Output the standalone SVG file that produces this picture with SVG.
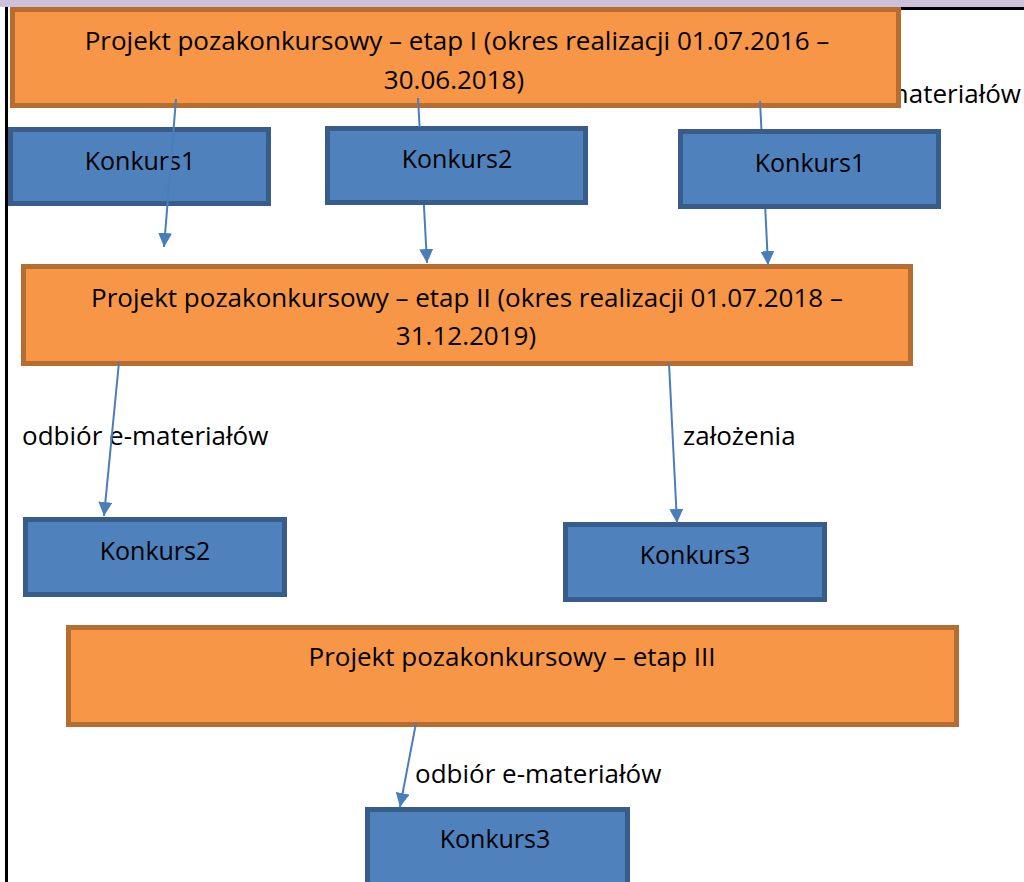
<svg xmlns="http://www.w3.org/2000/svg" width="1024" height="882" viewBox="0 0 1024 882">
<defs>
<style>
.bg{fill:#ffffff}
.orange rect{fill:#F79646;stroke:#B66D31;stroke-width:5}
.blue rect{fill:#4F81BD;stroke:#385D8A;stroke-width:5}
text{font-family:"Open Sans","Liberation Sans",sans-serif;font-size:26px;fill:#000}
.blue text{font-size:25px}
.c{text-anchor:middle}
.conn path{fill:none;stroke:#4A7EBB;stroke-width:2}
</style>
<marker id="arr" markerUnits="userSpaceOnUse" markerWidth="16" markerHeight="16" refX="14" refY="7" orient="auto">
<path d="M0,0 L14,7 L0,14 z" fill="#4A7EBB"/>
</marker>
</defs>
<rect class="bg" x="0" y="0" width="1024" height="882"/>
<rect x="0" y="0" width="1024" height="7" fill="#CCC0DA"/>
<rect x="900" y="7" width="124" height="3" fill="#000"/>
<rect x="5" y="7" width="3" height="875" fill="#000"/>

<text id="lbl-top" x="1021" y="103" text-anchor="end">odbiór e-materiałów</text>

<g id="etap1" class="orange">
<rect x="12.5" y="9.5" width="886" height="96"/>
<text class="c" x="457" y="50">Projekt pozakonkursowy – etap I (okres realizacji 01.07.2016 –</text>
<text class="c" x="454" y="89">30.06.2018)</text>
</g>

<g id="k1a" class="blue">
<rect x="10.5" y="129.5" width="258" height="74"/>
<text class="c" x="140" y="170">Konkurs1</text>
</g>
<g id="k2a" class="blue">
<rect x="327.5" y="128.5" width="258" height="74"/>
<text class="c" x="457" y="168">Konkurs2</text>
</g>
<g id="k1b" class="blue">
<rect x="680.5" y="131.5" width="258" height="75"/>
<text class="c" x="810" y="172">Konkurs1</text>
</g>

<g id="etap2" class="orange">
<rect x="23.5" y="266.5" width="887" height="97"/>
<text class="c" x="467" y="307">Projekt pozakonkursowy – etap II (okres realizacji 01.07.2018 –</text>
<text class="c" x="466" y="345">31.12.2019)</text>
</g>

<text id="lbl-odbior1" x="22" y="445">odbiór e-materiałów</text>
<text id="lbl-zalozenia" x="683" y="445">założenia</text>

<g id="k2b" class="blue">
<rect x="25.5" y="519.5" width="259" height="75"/>
<text class="c" x="155" y="560">Konkurs2</text>
</g>
<g id="k3a" class="blue">
<rect x="565.5" y="524.5" width="259" height="75"/>
<text class="c" x="695" y="564">Konkurs3</text>
</g>

<g id="etap3" class="orange">
<rect x="68.5" y="627.5" width="888" height="97"/>
<text class="c" x="512" y="666">Projekt pozakonkursowy – etap III</text>
</g>

<text id="lbl-odbior2" x="415" y="783">odbiór e-materiałów</text>

<g id="k3b" class="blue">
<rect x="367.5" y="809.5" width="260" height="80"/>
<text class="c" x="495" y="848">Konkurs3</text>
</g>

<g id="connectors" class="conn">
<path d="M176,99 L164,247" marker-end="url(#arr)"/>
<path d="M418,98 L419.6,127 M423.9,205 L427,263" marker-end="url(#arr)"/>
<path d="M760,101 L761.4,129 M765.3,209 L768,265" marker-end="url(#arr)"/>
<path d="M119,362 L104,516" marker-end="url(#arr)"/>
<path d="M669,363 L677,523" marker-end="url(#arr)"/>
<path d="M416,723 L400,807" marker-end="url(#arr)"/>
</g>
</svg>
